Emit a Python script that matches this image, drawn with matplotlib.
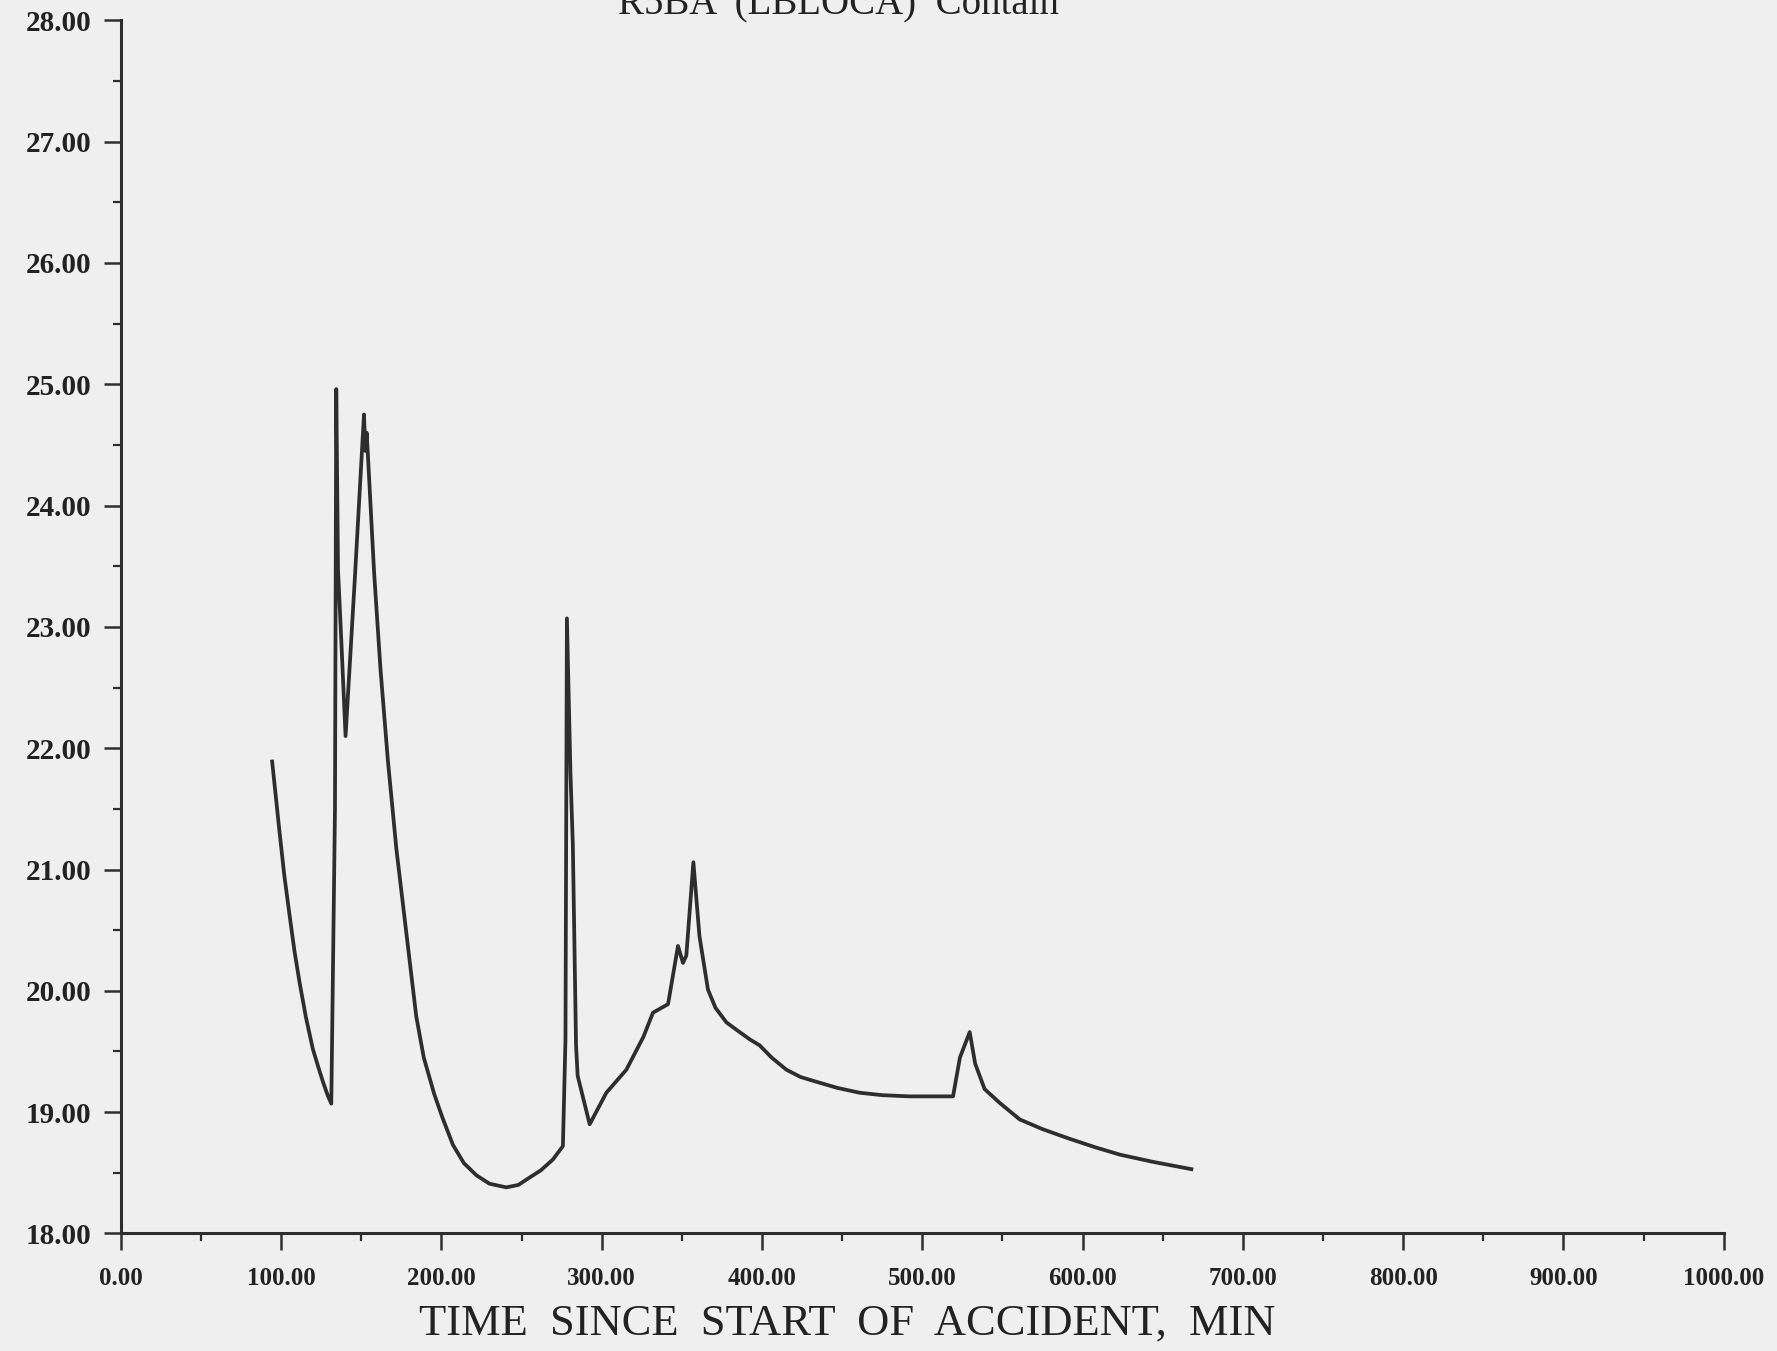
import matplotlib
matplotlib.use("Agg")
import matplotlib.pyplot as plt
from matplotlib.ticker import MultipleLocator, FormatStrFormatter

# Temperature trace (time in min)
time_min = [94.4, 99.0, 102.0, 105.3, 108.3, 111.5, 115.5, 119.8, 123.0,
            126.1, 129.0, 131.3,
            133.6, 134.4, 135.5, 137.5, 140.2, 146.0, 151.7, 152.6, 153.4,
            158.0, 162.0, 166.6, 171.9, 178.1, 184.3, 189.0, 195.5, 200.5,
            207.2, 214.0, 221.8, 230.0, 240.5, 248.0, 254.9, 262.0, 269.6,
            275.8, 277.4, 278.3, 280.5, 282.0, 284.0,
            285.0, 292.5, 302.9, 315.4, 326.0, 332.0, 341.4, 347.6, 350.7,
            352.8, 357.2, 361.0, 366.3, 371.0, 377.8, 385.0, 392.4, 398.6,
            406.0, 415.2, 424.0, 434.0, 447.0, 460.9, 475.0, 492.1, 519.2,
            523.5, 529.6, 533.0, 538.9, 548.0, 560.8, 575.0, 592.0, 608.0,
            623.2, 644.0, 667.9]
temp = [21.89, 21.31, 20.95, 20.62, 20.33, 20.07, 19.78, 19.52, 19.38,
        19.25, 19.14, 19.07,
        21.50, 24.96, 23.47, 22.90, 22.10, 23.40, 24.75, 24.45, 24.60,
        23.45, 22.65, 21.90, 21.17, 20.48, 19.79, 19.45, 19.15, 18.96,
        18.73, 18.58, 18.48, 18.41, 18.38, 18.40, 18.46, 18.52, 18.61,
        18.72, 19.60, 23.07, 21.80, 21.20, 19.55,
        19.30, 18.90, 19.16, 19.35, 19.62, 19.82, 19.89, 20.37, 20.23,
        20.29, 21.06, 20.45, 20.01, 19.86, 19.74, 19.67, 19.60, 19.55,
        19.45, 19.35, 19.29, 19.25, 19.20, 19.16, 19.14, 19.13, 19.13,
        19.45, 19.66, 19.40, 19.19, 19.08, 18.94, 18.86, 18.78, 18.71,
        18.65, 18.59, 18.53]

x_ticks = [0, 100, 200, 300, 400, 500, 600, 700, 800, 900, 1000]
y_ticks = [18, 19, 20, 21, 22, 23, 24, 25, 26, 27, 28]

paper = "#efefef"
ink = "#2e2e2e"
serif = ["Liberation Serif", "DejaVu Serif"]

plt.rcParams["font.family"] = serif

fig = plt.figure(figsize=(17.77, 13.51), dpi=100, facecolor=paper)
ax = fig.add_axes([0.068, 0.087, 0.902, 0.898], facecolor=paper)

ax.plot(time_min, temp, color=ink, linewidth=2.7, solid_joinstyle="round")

ax.set_xlim(x_ticks[0], x_ticks[-1])
ax.set_ylim(y_ticks[0], y_ticks[-1])
ax.set_xticks(x_ticks)
ax.set_yticks(y_ticks)
ax.xaxis.set_minor_locator(MultipleLocator(50))
ax.yaxis.set_minor_locator(MultipleLocator(0.5))
ax.xaxis.set_major_formatter(FormatStrFormatter("%.2f"))
ax.yaxis.set_major_formatter(FormatStrFormatter("%.2f"))

for side in ["top", "right"]:
    ax.spines[side].set_visible(False)
for side in ["left", "bottom"]:
    ax.spines[side].set_color(ink)
    ax.spines[side].set_linewidth(2.2)

ax.tick_params(axis="both", which="major", direction="out", length=12,
               width=1.8, color=ink)
ax.tick_params(axis="both", which="minor", direction="out", length=6,
               width=1.6, color=ink)
ax.tick_params(axis="x", which="major", labelsize=18, pad=12)
ax.tick_params(axis="y", which="major", labelsize=21, pad=9)
for lab in ax.get_xticklabels() + ax.get_yticklabels():
    lab.set_fontweight("bold")
    lab.set_color("#222222")

fig.text(0.4767, 0.020, "TIME  SINCE  START  OF  ACCIDENT,  MIN",
         ha="center", va="center", fontsize=32, color="#222222")
fig.text(0.472, 0.9896, "R5BA  (LBLOCA)  Contain",
         ha="center", va="baseline", fontsize=28, color="#222222")

fig.savefig("out.png", dpi=100, facecolor=paper)
plt.close(fig)
